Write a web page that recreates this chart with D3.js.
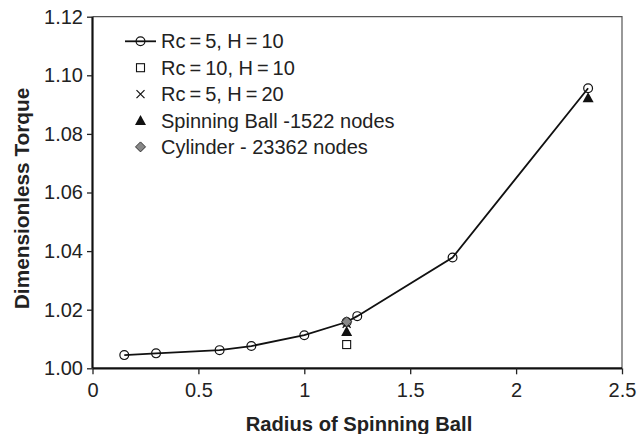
<!DOCTYPE html>
<html><head><meta charset="utf-8">
<script src="https://cdn.jsdelivr.net/npm/d3@7"></script>
<style>body{margin:0;background:#fff}svg{display:block}text{font-family:"Liberation Sans",Arial,sans-serif}</style>
</head><body><svg id="c" width="638" height="434"></svg>
<script>
const xTicks = [0, 0.5, 1, 1.5, 2, 2.5];
const yTicks = [1.00, 1.02, 1.04, 1.06, 1.08, 1.10, 1.12];
const lineX = [0.15, 0.3, 0.6, 0.75, 1.0, 1.2, 1.25, 1.7, 2.34];
const lineY = [1.0045, 1.0051, 1.0062, 1.0076, 1.0113, 1.0158, 1.0178, 1.0378, 1.0956];
const squareX = [1.2], squareY = [1.0081];
const crossX = [1.2], crossY = [1.0152];
const triX = [1.2, 2.34], triY = [1.0126, 1.0923];
const diamX = [1.2], diamY = [1.0159];
const legendLabels = ["Rc\u2009=\u20095, H\u2009=\u200910", "Rc\u2009=\u200910, H\u2009=\u200910", "Rc\u2009=\u20095, H\u2009=\u200920", "Spinning Ball -1522 nodes", "Cylinder - 23362 nodes"];

const svg = d3.select("#c");
const L = 92.5, R = 622, T = 16.7, B = 368.3;
const x = d3.scaleLinear().domain([0, 2.5]).range([L, R]);
const y = d3.scaleLinear().domain([1.00, 1.12]).range([B, T]);

// top & right border
svg.append("path").attr("d", `M${L},${T}H${R}V${B}`).attr("fill","none").attr("stroke","#555").attr("stroke-width",1.2);

const xa = svg.append("g").attr("transform",`translate(0,${B})`)
  .call(d3.axisBottom(x).tickValues(xTicks).tickSize(6).tickPadding(8.5).tickFormat(d3.format("")));
const ya = svg.append("g").attr("transform",`translate(${L},0)`)
  .call(d3.axisLeft(y).tickValues(yTicks).tickSize(5.5).tickPadding(4).tickFormat(d3.format(".2f")));
[xa, ya].forEach(a => {
  a.select(".domain").attr("stroke","#111").attr("stroke-width",2.2);
  a.selectAll(".tick line").attr("stroke","#222").attr("stroke-width",1.3);
  a.selectAll("text").attr("font-size",20).attr("fill","#222").attr("font-family",'"Liberation Sans",Arial,sans-serif');
});
xa.select(".domain").attr("d", `M${L},0H${R}`);
ya.select(".domain").attr("d", `M0,${B}V${T}`);

svg.append("text").attr("x",359).attr("y",430.5).attr("text-anchor","middle")
  .attr("font-weight","bold").attr("font-size",20.2).attr("fill","#222").text("Radius of Spinning Ball");
svg.append("text").attr("transform",`translate(28.5,198.4) rotate(-90)`).attr("text-anchor","middle")
  .attr("font-weight","bold").attr("font-size",20.8).attr("fill","#222").text("Dimensionless Torque");

const g = svg.append("g");
const pts = lineX.map((v,i)=>[v,lineY[i]]);
g.append("path").datum(pts).attr("d", d3.line().x(d=>x(d[0])).y(d=>y(d[1])))
  .attr("fill","none").attr("stroke","#111").attr("stroke-width",1.8);

function circle(sel, cx, cy){ sel.append("circle").attr("cx",cx).attr("cy",cy).attr("r",4.4).attr("fill","none").attr("stroke","#111").attr("stroke-width",1.2); }
function square(sel, cx, cy){ sel.append("rect").attr("x",cx-4).attr("y",cy-4).attr("width",8).attr("height",8).attr("fill","#fff").attr("stroke","#111").attr("stroke-width",1.1); }
function cross(sel, cx, cy){ sel.append("path").attr("d",`M${cx-4},${cy-4}L${cx+4},${cy+4}M${cx-4},${cy+4}L${cx+4},${cy-4}`).attr("stroke","#111").attr("stroke-width",1.2); }
function tri(sel, cx, cy){ sel.append("path").attr("d",`M${cx},${cy-5.5}L${cx+5.5},${cy+4.5}L${cx-5.5},${cy+4.5}Z`).attr("fill","#111"); }
function diam(sel, cx, cy){ sel.append("path").attr("d",`M${cx},${cy-5}L${cx+5},${cy}L${cx},${cy+5}L${cx-5},${cy}Z`).attr("fill","#888").attr("stroke","#333").attr("stroke-width",1); }

pts.forEach(d => circle(g, x(d[0]), y(d[1])));
squareX.forEach((v,i)=>square(g, x(v), y(squareY[i])));
crossX.forEach((v,i)=>cross(g, x(v), y(crossY[i])));
triX.forEach((v,i)=>tri(g, x(v), y(triY[i])));
diamX.forEach((v,i)=>diam(g, x(v), y(diamY[i])));

// legend
const lg = svg.append("g");
const mx = 140.5, tx = 161, b0 = 48.3, dy = 26.4;
const drawers = [null, square, cross, tri, diam];
legendLabels.forEach((lab,i)=>{
  const base = b0 + i*dy, cy = base - 7;
  if (i===0){
    lg.append("line").attr("x1",125).attr("x2",156).attr("y1",cy).attr("y2",cy).attr("stroke","#111").attr("stroke-width",1.8);
    circle(lg, mx, cy);
  } else drawers[i](lg, mx, cy);
  lg.append("text").attr("x",tx).attr("y",base).attr("font-size",20).attr("fill","#222").text(lab);
});
</script></body></html>
